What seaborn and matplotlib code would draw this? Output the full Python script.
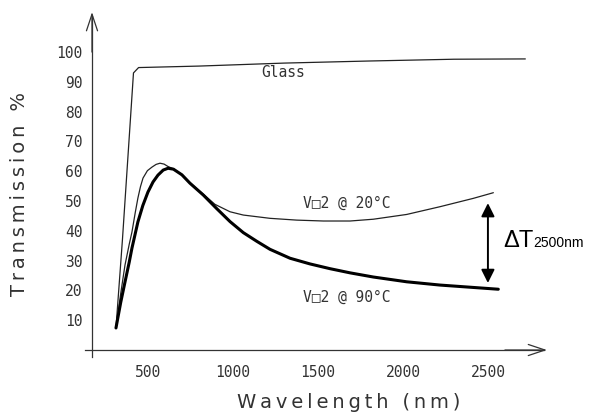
import numpy as np
import pandas as pd
import matplotlib
matplotlib.use('Agg')
import matplotlib.pyplot as plt
import seaborn as sns

# wavelength (nm) / transmission (%)
glass_wl = [312, 350, 383, 415, 445, 800, 1300, 1800, 2300, 2720]
glass_t = [7.4, 37, 65.4, 93.0, 94.8, 95.3, 96.3, 97.0, 97.6, 97.7]

cold_wl = [312, 340, 365, 390, 406, 425, 441, 456, 471, 497, 524, 548, 571, 595, 618,
           650, 700, 747, 826, 894, 983, 1061, 1218, 1375, 1532, 1689, 1826, 2022,
           2218, 2414, 2532]
cold_t = [7.4, 19, 28.5, 35.5, 39.6, 46, 51, 54.8, 57.7, 60.2, 61.4, 62.3, 62.7, 62.4, 61.6,
          60.8, 58.8, 56.1, 52.3, 48.9, 46.4, 45.3, 44.2, 43.6, 43.3, 43.3, 43.9, 45.5,
          48.1, 50.9, 52.8]

hot_wl = [312, 340, 365, 390, 406, 441, 470, 500, 530, 559, 590, 618, 650, 700,
          747, 826, 904, 983, 1061, 1140, 1218, 1336, 1453, 1571, 1689, 1826, 2022,
          2218, 2414, 2561]
hot_t = [7.4, 16, 22.8, 29.5, 34.2, 43.0, 48.5, 53.0, 56.4, 58.7, 60.4, 61.0, 60.7, 58.8,
         56.0, 52.0, 47.5, 43.1, 39.4, 36.5, 33.8, 30.8, 28.9, 27.3, 25.9, 24.5, 22.9,
         21.8, 21.0, 20.4]

y_ticks = [10, 20, 30, 40, 50, 60, 70, 80, 90, 100]
x_ticks = [500, 1000, 1500, 2000, 2500]

x_origin = 171


def spaced(s):
    # the plotter font in the original is widely spaced
    return '\u2009'.join(s)


sns.set_style('white')
plt.rcParams['font.family'] = ['DejaVu Sans']

fig = plt.figure(figsize=(5.99, 4.16), dpi=100)
ax = fig.add_axes([80 / 599, 51 / 416, 480 / 599, 360 / 416])

line_kw = dict(sort=False, estimator=None, ax=ax, solid_joinstyle='round',
               solid_capstyle='round')
sns.lineplot(x=glass_wl, y=glass_t, color='#222222', linewidth=0.9, **line_kw)
sns.lineplot(x=cold_wl, y=cold_t, color='#222222', linewidth=0.9, **line_kw)
sns.lineplot(x=hot_wl, y=hot_t, color='black', linewidth=2.2, **line_kw)

ax.set_xlim(100.4, 2924)
ax.set_ylim(-5.03, 115.8)

for side in ['top', 'right']:
    ax.spines[side].set_visible(False)
ax.spines['left'].set_position(('data', x_origin))
ax.spines['bottom'].set_position(('data', 0))
ax.spines['left'].set_bounds(-2.3, 112)
ax.spines['bottom'].set_bounds(130, 2830)
for side in ['left', 'bottom']:
    ax.spines[side].set_color('#333333')
    ax.spines[side].set_linewidth(0.9)

ax.set_xticks(x_ticks)
ax.set_yticks(y_ticks)
ax.tick_params(axis='both', direction='out', length=5, width=0.9, color='#333333',
               labelcolor='#333333', labelsize=10.5)
ax.tick_params(axis='y', pad=2)
ax.tick_params(axis='x', pad=6)
for lab in ax.get_xticklabels() + ax.get_yticklabels():
    lab.set_fontfamily('DejaVu Sans Mono')

# axis arrow heads
ax.annotate('', xy=(x_origin, 113.4), xytext=(x_origin, 100),
            arrowprops=dict(arrowstyle='->,head_length=1.2,head_width=0.4',
                            color='#333333', lw=0.9, shrinkA=0, shrinkB=0))
ax.annotate('', xy=(2847, 0), xytext=(2600, 0),
            arrowprops=dict(arrowstyle='->,head_length=1.2,head_width=0.4',
                            color='#333333', lw=0.9, shrinkA=0, shrinkB=0))

# delta T arrow at 2500 nm
ax.annotate('', xy=(2500, 49.3), xytext=(2500, 22.5),
            arrowprops=dict(arrowstyle='<|-|>,head_length=0.8,head_width=0.4',
                            color='black', lw=1.4, shrinkA=0, shrinkB=0))

label_kw = dict(color='#333333', fontsize=10.5, fontfamily='DejaVu Sans Mono')
ax.text(1294, 93.3, 'Glass', ha='center', va='center', **label_kw)
ax.text(1412, 49.3, 'V\u25a12 @ 20\u00b0C', ha='left', va='center', **label_kw)
ax.text(1412, 17.8, 'V\u25a12 @ 90\u00b0C', ha='left', va='center', **label_kw)

ax.text(2589, 34.6, '\u0394T', ha='left', va='baseline', fontsize=17,
        fontfamily='Liberation Sans', color='black', clip_on=False)
ax.text(2765, 34.6, '2500nm', ha='left', va='baseline', fontsize=10,
        fontfamily='Liberation Sans', color='black', clip_on=False)

fig.text(348.5 / 599, 1 - 402 / 416, spaced('Wavelength (nm)'), ha='center', va='center',
         fontsize=14, color='#333333')
fig.text(20 / 599, 1 - 193.5 / 416, spaced('Transmission %'), ha='center', va='center',
         rotation=90, fontsize=14, color='#333333')

fig.savefig('out.png', dpi=100)
